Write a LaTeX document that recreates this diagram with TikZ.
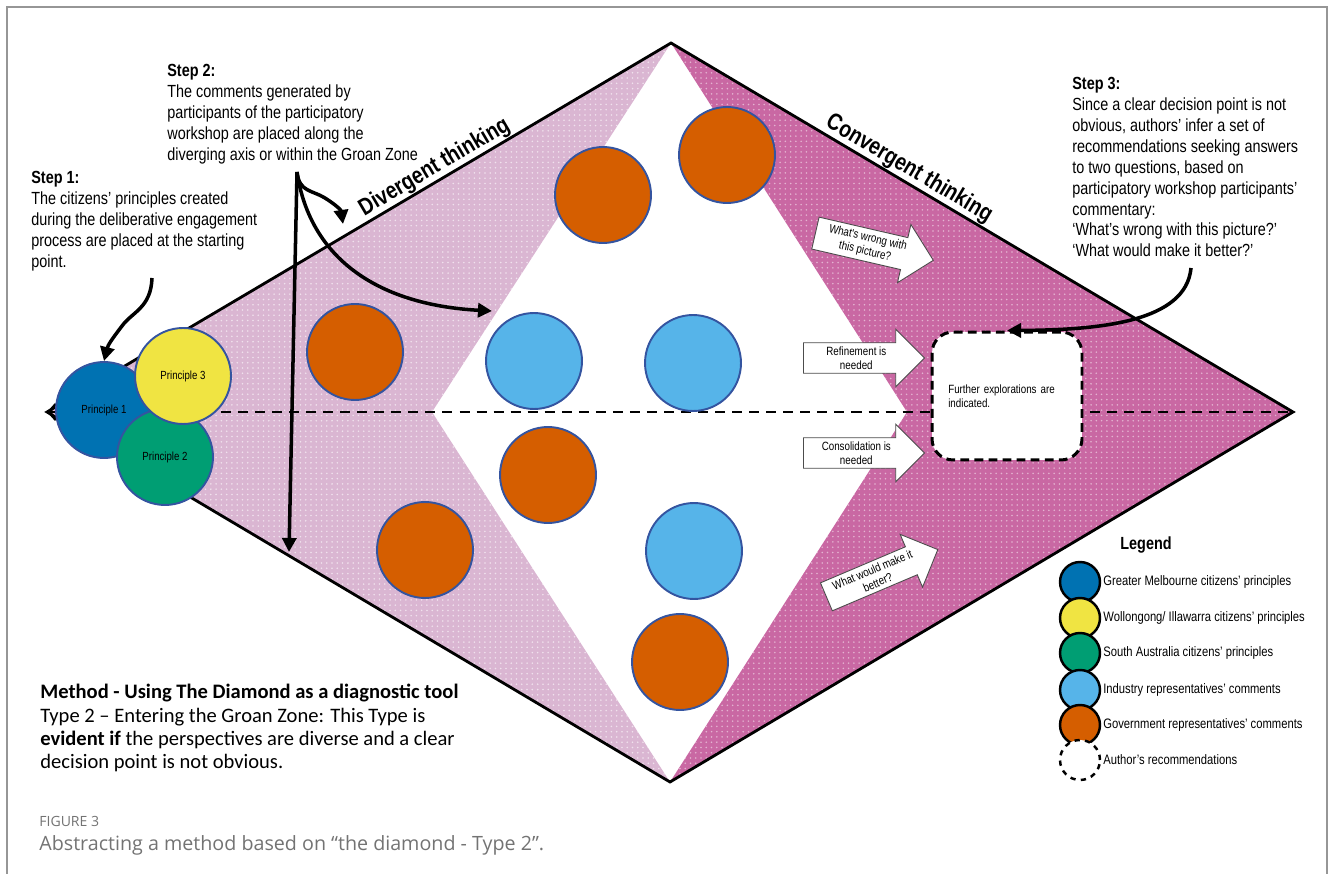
\documentclass[tikz,border=0pt]{standalone}
\usepackage{fontspec}
\setmainfont{Liberation Sans}
\newfontfamily\narrowsans[FakeStretch=0.82]{Liberation Sans}
\newfontfamily\methodfont{Carlito}
\newfontfamily\captionfont{Open Sans}
\usetikzlibrary{arrows.meta,shapes.arrows,patterns,calc}
\definecolor{okblue}{HTML}{0072B2}
\definecolor{okyellow}{HTML}{F0E442}
\definecolor{okgreen}{HTML}{009E73}
\definecolor{oksky}{HTML}{56B4E9}
\definecolor{okorange}{HTML}{D55E00}
\definecolor{palemauve}{RGB}{218,182,210}
\definecolor{deepmauve}{RGB}{201,104,163}
\definecolor{rimblue}{RGB}{52,84,160}
\definecolor{framegray}{RGB}{150,150,150}
\begin{document}
\begin{tikzpicture}[x=0.02cm, y=-0.02cm,
  disc/.style={circle, draw=rimblue, line width=1.1pt, minimum size=1.92cm, inner sep=0pt, font=\narrowsans\fontsize{6.7}{8}\selectfont},
  gov/.style={disc, fill=okorange},
  ind/.style={disc, fill=oksky},
  legendkey/.style={circle, draw=black, line width=1.4pt, minimum size=0.8cm, inner sep=0pt},
  keytext/.style={anchor=west, inner sep=0pt, font=\narrowsans\fontsize{7.8}{9}\selectfont},
  steptext/.style={anchor=north west, align=left, inner sep=0pt, font=\narrowsans\fontsize{10}{11.9}\selectfont},
  blockarrow/.style={single arrow, draw=black!70, line width=0.5pt, fill=white, single arrow head extend=0.27cm, minimum height=2.42cm, inner ysep=2pt, inner xsep=2pt, align=center, font=\narrowsans\fontsize{6.8}{7.8}\selectfont, anchor=tail},
  pointer/.style={line width=2pt, -{Triangle[length=8pt,width=8pt]}},
  axisline/.style={line width=1.7pt, dash pattern=on 5.7pt off 4pt},
  rim/.style={line width=1.6pt, line join=miter},
  thinking/.style={font=\narrowsans\bfseries\fontsize{13.5}{15}\selectfont, inner sep=1pt, anchor=south}
]
\useasboundingbox (0,0) rectangle (1332,874);
\draw[framegray, line width=1pt] (7,874) -- (7,7) -- (1327,7) -- (1327,874);

\coordinate (L) at (47,412);
\coordinate (T) at (671,43);
\coordinate (R) at (1293,412);
\coordinate (B) at (670,782);
\coordinate (iL) at (432,412);
\coordinate (iR) at (907,412);

\fill[palemauve] (L) -- (T) -- (iL) -- (B) -- cycle;
\fill[pattern=dots, pattern color=white, fill opacity=0.6] (L) -- (T) -- (iL) -- (B) -- cycle;
\fill[deepmauve] (T) -- (R) -- (B) -- (iR) -- cycle;
\fill[pattern=dots, pattern color=white, fill opacity=0.5] (T) -- (R) -- (B) -- (iR) -- cycle;
\draw[axisline, {Straight Barb[length=4pt,width=9pt]}-] (L) -- (R);
\draw[rim] (L) -- (T) -- (R) -- (B) -- cycle;

\node[thinking, rotate=30.6] (div) at ($(L)!0.632!(T)$) {Divergent thinking};
\node[thinking, rotate=-30.7] (conv) at ($(T)!0.372!(R)$) {Convergent thinking};

\node[disc, fill=okblue] (p1) at (104,410) {Principle 1};
\node[disc, fill=okgreen] (p2) at (165,457) {Principle 2};
\node[disc, fill=okyellow] (p3) at (183,376) {Principle 3};

\node[gov] (g1) at (355,352) {};
\node[gov] (g2) at (603,195) {};
\node[gov] (g3) at (727,155) {};
\node[gov] (g4) at (548,475) {};
\node[gov] (g5) at (425,550) {};
\node[gov] (g6) at (680,662) {};
\node[ind] (i1) at (534,361) {};
\node[ind] (i2) at (693,363) {};
\node[ind] (i3) at (694,551) {};

\node[blockarrow, rotate=-13] (wrong) at (815,233) {What's wrong with\\this picture?};
\node[blockarrow] (refine) at (803,358) {Refinement is\\needed};
\node[blockarrow] (consol) at (803,453) {Consolidation is\\needed};
\node[blockarrow, rotate=23] (better) at (826,597) {What would make it\\better?};

\node[draw, fill=white, line width=1.7pt, dash pattern=on 5pt off 3pt, rounded corners=12pt,
  minimum width=3cm, minimum height=2.56cm, text width=2.35cm, align=left,
  font=\narrowsans\fontsize{6.8}{7.8}\selectfont] (fx) at (1007,396) {Further explorations are\\indicated.};

\node[steptext] (step1) at (31,171) {\textbf{Step 1:}\\The citizens’ principles created\\during the deliberative engagement\\process are placed at the starting\\point.};
\node[steptext] (step2) at (167,64) {\textbf{Step 2:}\\The comments generated by\\participants of the participatory\\workshop are placed along the\\diverging axis or within the Groan Zone};
\node[steptext] (step3) at (1072,77) {\textbf{Step 3:}\\Since a clear decision point is not\\obvious, authors’ infer a set of\\recommendations seeking answers\\to two questions, based on\\participatory workshop participants’\\commentary:\\‘What’s wrong with this picture?’\\‘What would make it better?’};

\coordinate (s1) at (152,278);
\coordinate (s2) at (297,172);
\coordinate (s2down) at (289,552);
\coordinate (s2edge) at (343,224);
\coordinate (s2zone) at (492,311);
\coordinate (s3) at (1191,268);

\draw[pointer] (s1) .. controls (151,308) and (132,312) .. (122,326) .. controls (112,339) and (108,345) .. (p1.north);
\draw[pointer] (s2) -- (s2down);
\draw[pointer] (s2) .. controls (299,192) and (312,190) .. (325,198) .. controls (336,205) and (341,210) .. (s2edge);
\draw[pointer] (s2) .. controls (310,260) and (380,305) .. (s2zone);
\draw[pointer] (s3) .. controls (1186,322) and (1100,330) .. (fx.north);

\node[font=\narrowsans\bfseries\fontsize{10}{12}\selectfont] (legend) at (1146,545) {Legend};
\node[legendkey, fill=okblue] (k1) at (1080,582) {};
\node[legendkey, fill=okyellow] (k2) at (1080,618) {};
\node[legendkey, fill=okgreen] (k3) at (1080,653) {};
\node[legendkey, fill=oksky] (k4) at (1080,690) {};
\node[legendkey, fill=okorange] (k5) at (1080,725) {};
\node[legendkey, dashed, fill=white] (k6) at (1080,760) {};
\node[keytext] (t1) at (1103,582) {Greater Melbourne citizens’ principles};
\node[keytext] (t2) at (1103,618) {Wollongong/ Illawarra citizens’ principles};
\node[keytext] (t3) at (1103,653) {South Australia citizens’ principles};
\node[keytext] (t4) at (1103,690) {Industry representatives’ comments};
\node[keytext] (t5) at (1103,725) {Government representatives’ comments};
\node[keytext] (t6) at (1103,760) {Author’s recommendations};

\node[anchor=north west, align=left, inner sep=0pt, font=\methodfont\fontsize{11.7}{13.3}\selectfont] (method) at (40,684)
  {\textbf{Method - Using The Diamond as a diagnostic tool}\\Type 2 – Entering the Groan Zone: This Type is\\\textbf{evident if} the perspectives are diverse and a clear\\decision point is not obvious.};

\node[anchor=north west, inner sep=0pt, text=black!55, font=\captionfont\fontsize{8}{9}\selectfont] (figno) at (39,816) {FIGURE 3};
\node[anchor=north west, inner sep=0pt, text=black!55, font=\captionfont\fontsize{11.2}{13}\selectfont] (caption) at (39,835) {Abstracting a method based on “the diamond - Type 2”.};
\end{tikzpicture}
\end{document}
